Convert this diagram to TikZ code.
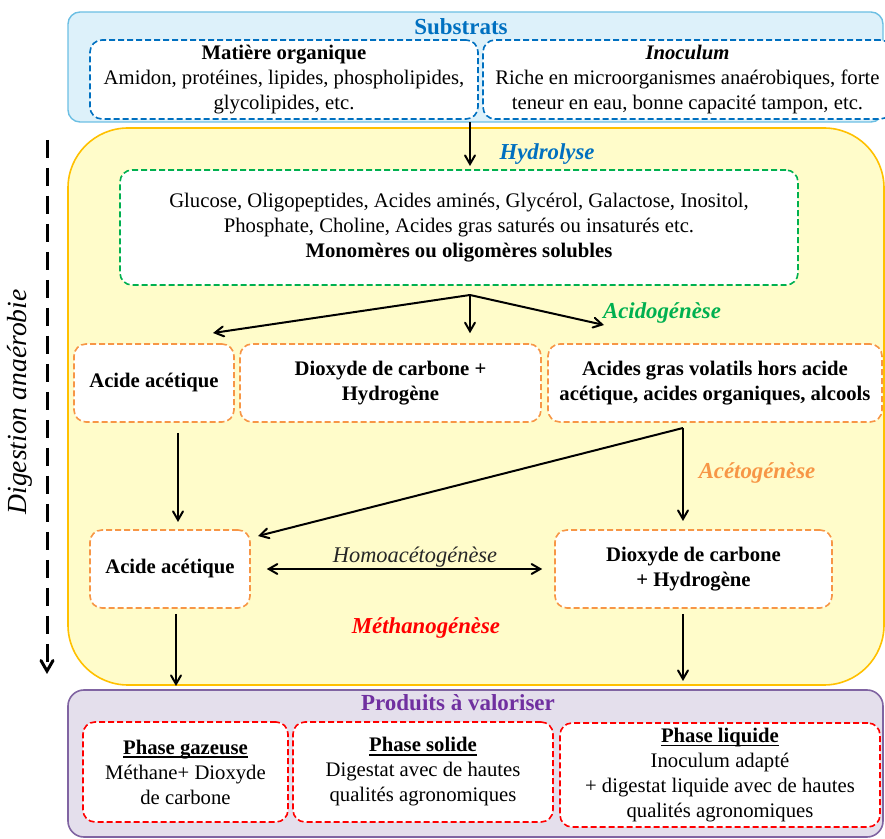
\documentclass[tikz,border=0pt]{standalone}
\usepackage{fontspec}
\setmainfont{Liberation Serif}
\usepackage{tikz}
\usetikzlibrary{arrows, positioning}
\usepackage{color}

\definecolor{bleu}{HTML}{0070C0}
\definecolor{bleufond}{HTML}{DDF1FA}
\definecolor{bleutrait}{HTML}{6CBFE3}
\definecolor{jaunefond}{HTML}{FFFCCA}
\definecolor{jaunetrait}{HTML}{FFC000}
\definecolor{vert}{HTML}{00B050}
\definecolor{orangeclair}{HTML}{F79646}
\definecolor{violetfond}{HTML}{E4DFEC}
\definecolor{violettrait}{HTML}{8064A2}
\definecolor{violettitre}{HTML}{7030A0}
\definecolor{rouge}{HTML}{FF0000}
\definecolor{grisfonce}{HTML}{262626}

% soulignement sans changer l'interligne
\newcommand{\souligne}[1]{\setbox0\hbox{#1}\rlap{\rule[-1.8pt]{\wd0}{0.6pt}}\box0}

\tikzset{
  cadre/.style={shape=rectangle, draw=#1, line width=0.8pt, dash pattern=on 3pt off 1.5pt,
    rounded corners=6pt, fill=white, align=center, inner sep=1pt},
  gras/.style={font=\fontsize{10.35}{12.5}\selectfont\bfseries},
  titre/.style={font=\fontsize{11.5}{13}\selectfont\bfseries, text=#1},
  etape/.style={font=\fontsize{11.4}{13}\selectfont\bfseries\itshape, text=#1},
  fleche/.style={->, >=angle 60, line width=1pt},
}

\begin{document}
\begin{tikzpicture}[x=0.5pt, y=-0.5pt, font=\fontsize{10.35}{12.5}\selectfont]
  \useasboundingbox (0,0) rectangle (885,839);

  % grands cadres
  \draw[fill=bleufond, draw=bleutrait, line width=0.7pt, rounded corners=6pt] (68,12) rectangle (883,122);
  \draw[fill=jaunefond, draw=jaunetrait, line width=0.8pt, rounded corners=30pt] (68,128) rectangle (884,685);
  \draw[fill=violetfond, draw=violettrait, line width=0.8pt, rounded corners=8pt] (68,690) rectangle (883,837);

  \node[titre=bleu] (sub) at (461,27) {Substrats};
  \node[titre=violettitre] (prod) at (458,703) {Produits à valoriser};

  % substrats
  \node[cadre=bleu, minimum width=194pt, minimum height=39.5pt] (mo) at (284,79.5)
    {\textbf{Matière organique}\\ Amidon, protéines, lipides, phospholipides,\\ glycolipides, etc.};
  \node[cadre=bleu, minimum width=204.5pt, minimum height=39.5pt] (ino) at (687.5,79.5)
    {\textbf{\textit{Inoculum}}\\ Riche en microorganismes anaérobiques, forte\\ teneur en eau, bonne capacité tampon, etc.};

  % hydrolyse
  \node[cadre=vert, minimum width=339pt, minimum height=57.5pt] (mono) at (459,227.5)
    {Glucose, Oligopeptides, Acides aminés, Glycérol, Galactose, Inositol,\\
     Phosphate, Choline, Acides gras saturés ou insaturés etc.\\
     \textbf{Monomères ou oligomères solubles}};
  \node[etape=bleu] (hyd) at (547,154) {Hydrolyse};

  % acidogenese
  \node[cadre=orangeclair, gras, minimum width=80pt, minimum height=39pt] (aa1) at (154,383) {Acide acétique};
  \node[cadre=orangeclair, gras, minimum width=150.5pt, minimum height=39pt] (dc1) at (390.5,383) {Dioxyde de carbone +\\ Hydrogène};
  \node[cadre=orangeclair, gras, minimum width=167pt, minimum height=39pt] (ag) at (715,383)
    {Acides gras volatils hors acide\\ acétique, acides organiques, alcools};
  \node[etape=vert] (acido) at (662,313) {Acidogénèse};

  % acetogenese
  \node[cadre=orangeclair, gras, minimum width=80pt, minimum height=39pt] (aa2) at (170,569) {Acide acétique};
  \node[cadre=orangeclair, gras, minimum width=138.5pt, minimum height=39pt] (dc2) at (693.5,569) {Dioxyde de carbone\\ + Hydrogène};
  \node[etape=orangeclair] (aceto) at (757,473) {Acétogénèse};
  \node[font=\fontsize{11.2}{13}\selectfont\itshape, text=grisfonce] (homo) at (415,557) {Homoacétogénèse};
  \node[etape=rouge] (metha) at (426,628) {Méthanogénèse};

  % produits
  \node[cadre=rouge, minimum width=102.5pt, minimum height=50pt] (pg) at (185.5,772)
    {\textbf{\souligne{Phase gazeuse}}\\ Méthane+ Dioxyde\\ de carbone};
  \node[cadre=rouge, minimum width=130pt, minimum height=50pt] (ps) at (423,772)
    {\textbf{\souligne{Phase solide}}\\ Digestat avec de hautes\\ qualités agronomiques};
  \node[cadre=rouge, minimum width=160pt, minimum height=52pt] (pl) at (720,775)
    {\textbf{\souligne{Phase liquide}}\\ Inoculum adapté\\ + digestat liquide avec de hautes\\ qualités agronomiques};

  % digestion
  \coordinate (dga) at (47,140);
  \coordinate (dgb) at (47,674);
  \draw[->, >=angle 60, line width=1.5pt, dash pattern=on 9pt off 5pt] (dga) -- (dgb);
  \node[rotate=90, font=\fontsize{13.8}{15}\selectfont\itshape] (dig) at (20,402) {Digestion anaérobie};

  % fleches
  \coordinate (h1) at (470,122);
  \draw[fleche] (h1) -- (470,166);
  \coordinate (s) at (470,295);
  \coordinate (s1) at (213,333);
  \coordinate (s3) at (604,325);
  \draw[fleche] (s) -- (s1);
  \draw[fleche, shorten >=5pt] (s) -- (s |- dc1.north);
  \draw[fleche] (s) -- (s3);

  \coordinate (a1) at (178,433);
  \coordinate (a2) at (178,522);
  \draw[fleche] (a1) -- (a2);
  \coordinate (c) at (683,428);
  \coordinate (c1) at (683,521);
  \coordinate (c2) at (258,536);
  \draw[fleche] (c) -- (c1);
  \draw[fleche] (c) -- (c2);

  \draw[fleche, <->, shorten <=8pt, shorten >=6pt] (aa2.east) -- (dc2.west);

  \coordinate (m1) at (176,614);
  \coordinate (m2) at (176,686);
  \coordinate (m3) at (683,614);
  \coordinate (m4) at (683,681);
  \draw[fleche] (m1) -- (m2);
  \draw[fleche] (m3) -- (m4);
\end{tikzpicture}
\end{document}
